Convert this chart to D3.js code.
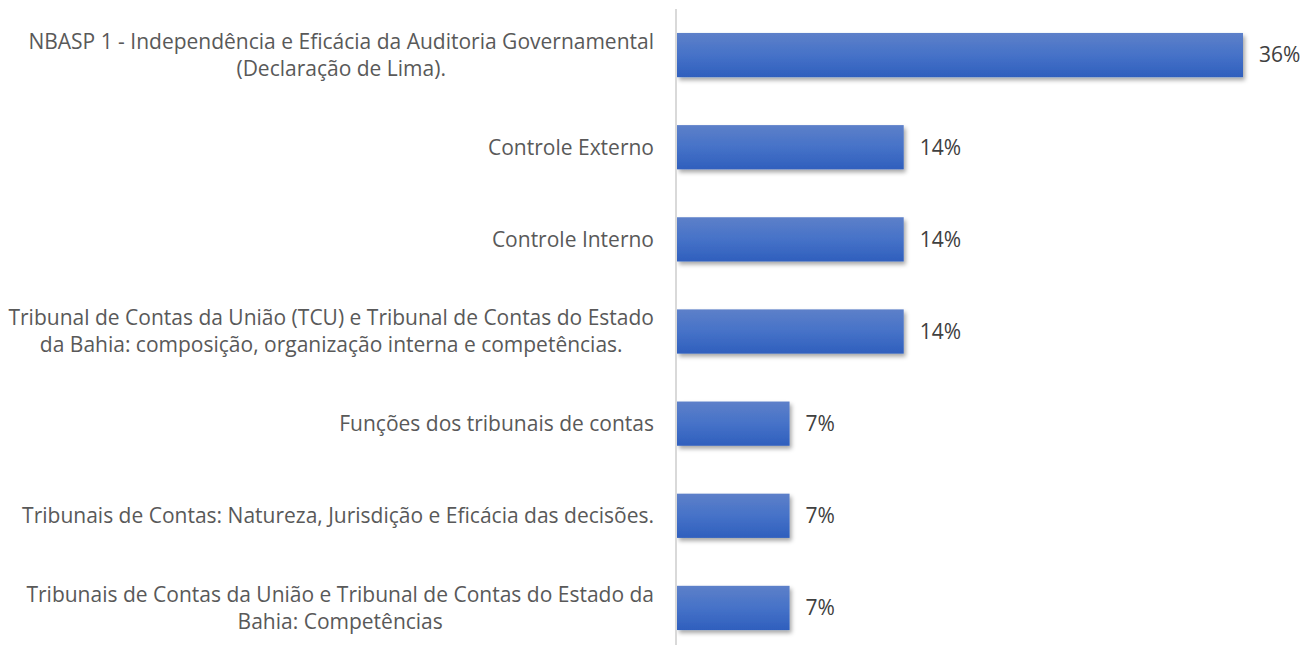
<!DOCTYPE html>
<html>
<head>
<meta charset="utf-8">
<script src="https://cdn.jsdelivr.net/npm/d3@7"></script>
<style>
  body { margin: 0; background: #fff; }
</style>
</head>
<body>
<svg id="main" width="1305" height="645"></svg>
<script>
// categories, top to bottom, split into lines the way the chart wraps them
var categories = [
  ["NBASP 1 - Independência e Eficácia da Auditoria Governamental", "(Declaração de Lima)."],
  ["Controle Externo"],
  ["Controle Interno"],
  ["Tribunal de Contas da União (TCU) e Tribunal de Contas do Estado", "da Bahia: composição, organização interna e competências."],
  ["Funções dos tribunais de contas"],
  ["Tribunais de Contas: Natureza, Jurisdição e Eficácia das decisões."],
  ["Tribunais de Contas da União e Tribunal de Contas do Estado da", "Bahia: Competências"]
];
// share of questions (5/14, 2/14, 1/14 ...)
var values = [0.357, 0.143, 0.143, 0.143, 0.071, 0.071, 0.071];
var valueLabels = ["36%", "14%", "14%", "14%", "7%", "7%", "7%"];

var svg = d3.select("#main");
var axisX = 677;
var labelRight = 654;
var font = "'Open Sans', sans-serif";

var y = d3.scaleBand()
  .domain(d3.range(categories.length))
  .range([9, 654])
  .paddingInner(0.52)
  .paddingOuter(0.26);

var x = d3.scaleLinear()
  .domain([0, 0.357])
  .range([axisX, 1243]);

var defs = svg.append("defs");
var grad = defs.append("linearGradient")
  .attr("id", "barGrad")
  .attr("x1", 0).attr("y1", 0).attr("x2", 0).attr("y2", 1);
grad.append("stop").attr("offset", "0%").attr("stop-color", "#5d80c9");
grad.append("stop").attr("offset", "50%").attr("stop-color", "#4672c8");
grad.append("stop").attr("offset", "100%").attr("stop-color", "#2f5fbd");

var shadow = defs.append("filter")
  .attr("id", "shadow")
  .attr("x", "-10%").attr("y", "-30%")
  .attr("width", "120%").attr("height", "180%");
shadow.append("feDropShadow")
  .attr("dx", 2).attr("dy", 3)
  .attr("stdDeviation", 2)
  .attr("flood-color", "#000")
  .attr("flood-opacity", 0.35);

// bars
svg.selectAll("rect.bar")
  .data(values)
  .enter().append("rect")
  .attr("class", "bar")
  .attr("x", x(0))
  .attr("y", function(d, i) { return y(i); })
  .attr("width", function(d) { return x(d) - x(0); })
  .attr("height", y.bandwidth())
  .attr("fill", "url(#barGrad)")
  .attr("filter", "url(#shadow)");

// vertical axis line
svg.append("line")
  .attr("x1", axisX - 1).attr("x2", axisX - 1)
  .attr("y1", 9).attr("y2", 645)
  .attr("stroke", "#d9d9d9")
  .attr("stroke-width", 2);

// value labels
svg.selectAll("text.val")
  .data(values)
  .enter().append("text")
  .attr("class", "val")
  .attr("x", function(d) { return x(d) + 16; })
  .attr("y", function(d, i) { return y(i) + y.bandwidth() / 2; })
  .attr("dy", "0.35em")
  .attr("font-family", font)
  .attr("font-size", "21px")
  .attr("fill", "#404040")
  .text(function(d, i) { return valueLabels[i]; });

// category labels, multi-line ones centred on their own block
var lineH = 27;
var cat = svg.selectAll("text.cat")
  .data(categories)
  .enter().append("text")
  .attr("class", "cat")
  .attr("font-family", font)
  .attr("font-size", "21px")
  .attr("fill", "#595959");

cat.each(function(lines, i) {
  var t = d3.select(this);
  var cy = y(i) + y.bandwidth() / 2;
  var top = cy - (lines.length - 1) * lineH / 2;
  var spans = lines.map(function(s, j) {
    return t.append("tspan")
      .attr("y", top + j * lineH)
      .attr("dy", "0.35em")
      .text(s);
  });
  var widths = spans.map(function(sp) { return sp.node().getComputedTextLength(); });
  var center = labelRight - d3.max(widths) / 2;
  spans.forEach(function(sp, j) {
    sp.attr("x", center - widths[j] / 2);
  });
});
</script>
</body>
</html>
